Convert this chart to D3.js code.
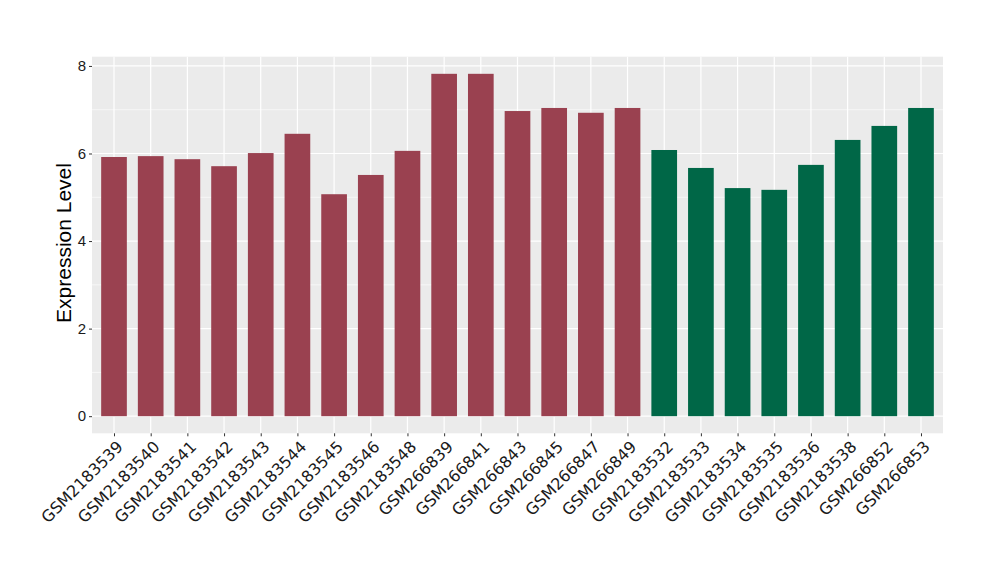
<!DOCTYPE html>
<html><head><meta charset="utf-8">
<script src="https://cdn.jsdelivr.net/npm/d3@7"></script>
<style>body{margin:0;background:#fff}</style>
</head><body>
<svg id="c" width="1000" height="580"></svg>
<script>
const samples = ["GSM2183539","GSM2183540","GSM2183541","GSM2183542","GSM2183543","GSM2183544","GSM2183545","GSM2183546","GSM2183548","GSM266839","GSM266841","GSM266843","GSM266845","GSM266847","GSM266849","GSM2183532","GSM2183533","GSM2183534","GSM2183535","GSM2183536","GSM2183538","GSM266852","GSM266853"];
const values = [5.92,5.94,5.87,5.71,6.01,6.45,5.07,5.51,6.06,7.82,7.82,6.97,7.04,6.93,7.04,6.08,5.67,5.21,5.17,5.74,6.31,6.63,7.04];
const groups = ["A","A","A","A","A","A","A","A","A","A","A","A","A","A","A","B","B","B","B","B","B","B","B"];
const groupColors = {A:"#9a4150", B:"#006747"};
const yTicks = [0,2,4,6,8];
const yMinor = [1,3,5,7];

const svg = d3.select("#c");
const L=92, R=943, T=56.7, B=433.3;
const vmax = d3.max(values);
const pad = vmax*0.05;
const y = d3.scaleLinear().domain([-pad, vmax+pad]).range([B, T]);
const n = samples.length;
const step = (R-L)/(n-1+1.2);
const xc = d3.scalePoint().domain(samples).range([L+0.6*step, R-0.6*step]);
const FONT = "Liberation Sans, Arial, sans-serif";

svg.append("rect").attr("x",L).attr("y",T).attr("width",R-L).attr("height",B-T).attr("fill","#ebebeb");
svg.selectAll(".ymin").data(yMinor).enter().append("line")
  .attr("x1",L).attr("x2",R).attr("y1",d=>y(d)).attr("y2",d=>y(d))
  .attr("stroke","#fff").attr("stroke-width",0.6);
svg.selectAll(".ymaj").data(yTicks).enter().append("line")
  .attr("x1",L).attr("x2",R).attr("y1",d=>y(d)).attr("y2",d=>y(d))
  .attr("stroke","#fff").attr("stroke-width",1.2);
svg.selectAll(".xmaj").data(samples).enter().append("line")
  .attr("x1",d=>xc(d)).attr("x2",d=>xc(d)).attr("y1",T).attr("y2",B)
  .attr("stroke","#fff").attr("stroke-width",1.2);

const bw = step*0.7;
svg.selectAll(".bar").data(samples).enter().append("rect")
  .attr("x",d=>xc(d)-bw/2).attr("width",bw)
  .attr("y",(d,i)=>y(values[i])).attr("height",(d,i)=>y(0)-y(values[i]))
  .attr("fill",(d,i)=>groupColors[groups[i]]);

// y axis
const yAxis = d3.axisLeft(y).tickValues(yTicks).tickSize(3).tickPadding(3);
const gy = svg.append("g").attr("transform",`translate(${L},0)`).call(yAxis);
gy.select(".domain").remove();
gy.selectAll(".tick line").attr("stroke","#333");
gy.selectAll(".tick text").attr("font-family",FONT).attr("font-size",15).attr("fill","#1a1a1a");

// x axis
const xAxis = d3.axisBottom(xc).tickSize(3).tickPadding(3);
const gx = svg.append("g").attr("transform",`translate(0,${B})`).call(xAxis);
gx.select(".domain").remove();
gx.selectAll(".tick line").attr("stroke","#333");
gx.selectAll(".tick text").attr("font-family","DejaVu Sans, sans-serif").attr("font-size",16).attr("fill","#1a1a1a")
  .attr("text-anchor","end").attr("dy",null).attr("y",0).attr("x",0)
  .attr("transform","translate(1,6) rotate(-45)").attr("dominant-baseline","hanging");

svg.append("text").attr("transform",`translate(71,${243}) rotate(-90)`)
  .attr("text-anchor","middle").attr("font-family",FONT)
  .attr("font-size",21).attr("fill","#000").text("Expression Level");
</script>
</body></html>
